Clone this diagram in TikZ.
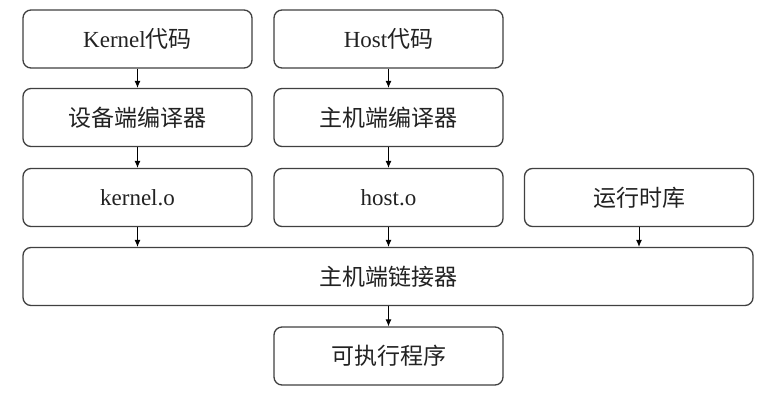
\documentclass[tikz,border=0pt]{standalone}
\usepackage{fontspec}
\setmainfont{Liberation Serif}
\newfontfamily\cjk{Noto Sans CJK SC}
\usetikzlibrary{arrows.meta}
\definecolor{edge}{HTML}{404040}
\definecolor{txt}{HTML}{222222}
\tikzset{
  box/.style={draw=edge, line width=1.3pt, rounded corners=8pt, fill=white,
    minimum height=58pt, inner sep=0pt, text=txt, font=\fontsize{23}{26}\selectfont},
  colbox/.style={box, minimum width=229pt},
  flow/.style={line width=0.9pt, -{Latex[length=7pt,width=6pt]}}
}
\begin{document}
\begin{tikzpicture}[x=1pt,y=1pt]
\useasboundingbox (0,0) rectangle (774,-405);
\node[colbox] (kcode) at (137.5,-39) {Kernel{\cjk 代码}};
\node[colbox] (hcode) at (388.5,-39) {Host{\cjk 代码}};
\node[colbox] (dcomp) at (137.5,-117.5) {\cjk 设备端编译器};
\node[colbox] (hcomp) at (388.5,-117.5) {\cjk 主机端编译器};
\node[colbox] (kobj) at (137.5,-197.5) {kernel.o};
\node[colbox] (hobj) at (388.5,-197.5) {host.o};
\node[colbox] (rtlib) at (639,-197.5) {\cjk 运行时库};
\node[box, minimum width=730pt] (link) at (388,-276.5) {\cjk 主机端链接器};
\node[colbox] (exe) at (388.5,-356) {\cjk 可执行程序};
\draw[flow] (kcode) -- (dcomp);
\draw[flow] (hcode) -- (hcomp);
\draw[flow] (dcomp) -- (kobj);
\draw[flow] (hcomp) -- (hobj);
\draw[flow] (kobj.south) -- (kobj.south |- link.north);
\draw[flow] (hobj.south) -- (hobj.south |- link.north);
\draw[flow] (rtlib.south) -- (rtlib.south |- link.north);
\draw[flow] (link.south -| exe.north) -- (exe.north);
\end{tikzpicture}
\end{document}
